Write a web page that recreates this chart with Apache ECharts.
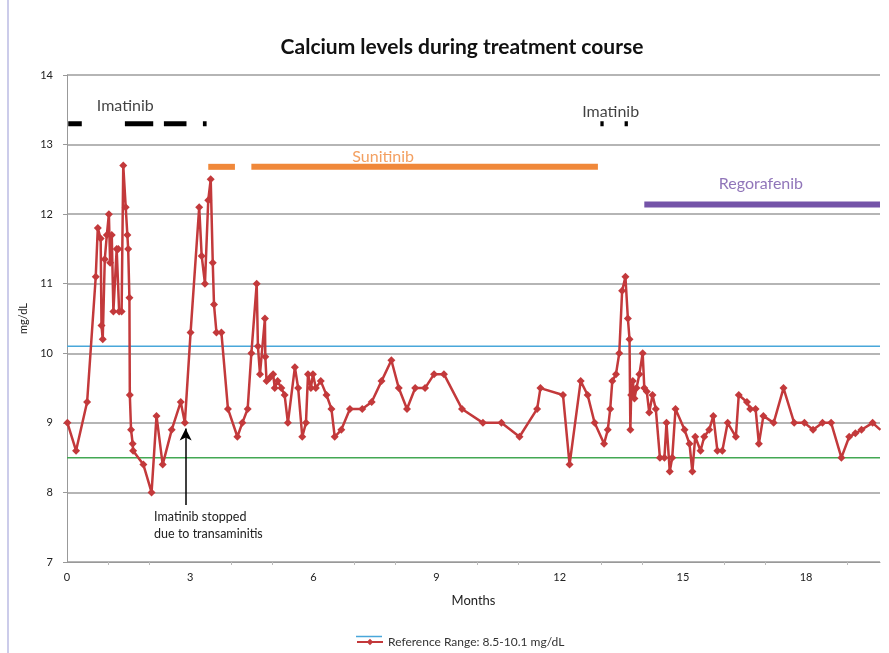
<!DOCTYPE html>
<html>
<head>
<meta charset="utf-8">
<script src="https://cdn.jsdelivr.net/npm/echarts@6/dist/echarts.min.js"></script>
<style>
  html, body { margin: 0; padding: 0; background: #fff; }
  #chart { width: 889px; height: 653px; }
</style>
</head>
<body>
<div id="chart"></div>
<script>
// calcium readings: [month, mg/dL]
var calcium = [
  [0.01, 9.0], [0.22, 8.6], [0.49, 9.3], [0.70, 11.1], [0.75, 11.8], [0.82, 11.65],
  [0.84, 10.4], [0.87, 10.2], [0.92, 11.35], [0.97, 11.7], [1.02, 12.0], [1.05, 11.3],
  [1.09, 11.7], [1.13, 10.6], [1.21, 11.5], [1.25, 11.5], [1.27, 10.6], [1.33, 10.6],
  [1.37, 12.7], [1.43, 12.1], [1.47, 11.7], [1.49, 11.5], [1.52, 10.8], [1.53, 9.4],
  [1.56, 8.9], [1.60, 8.7], [1.61, 8.6], [1.86, 8.4], [2.06, 8.0], [2.18, 9.1],
  [2.33, 8.4], [2.55, 8.9], [2.77, 9.3], [2.87, 9.0], [3.01, 10.3], [3.22, 12.1],
  [3.28, 11.4], [3.36, 11.0], [3.44, 12.2], [3.50, 12.5], [3.55, 11.3], [3.58, 10.7],
  [3.64, 10.3], [3.76, 10.3], [3.92, 9.2], [4.15, 8.8], [4.27, 9.0], [4.40, 9.2],
  [4.49, 10.0], [4.62, 11.0], [4.65, 10.1], [4.70, 9.7], [4.82, 10.5], [4.83, 9.95],
  [4.86, 9.6], [4.94, 9.65], [5.02, 9.7], [5.06, 9.5], [5.13, 9.6], [5.22, 9.5],
  [5.30, 9.4], [5.38, 9.0], [5.55, 9.8], [5.63, 9.5], [5.73, 8.8], [5.82, 9.0],
  [5.87, 9.7], [5.94, 9.5], [5.99, 9.7], [6.06, 9.5], [6.18, 9.6], [6.32, 9.4],
  [6.44, 9.2], [6.52, 8.8], [6.68, 8.9], [6.89, 9.2], [7.19, 9.2], [7.42, 9.3],
  [7.66, 9.6], [7.90, 9.9], [8.08, 9.5], [8.28, 9.2], [8.48, 9.5], [8.72, 9.5],
  [8.94, 9.7], [9.18, 9.7], [9.62, 9.2], [10.13, 9.0], [10.58, 9.0], [11.02, 8.8],
  [11.45, 9.2], [11.53, 9.5], [12.08, 9.4], [12.24, 8.4], [12.51, 9.6], [12.68, 9.4],
  [12.85, 9.0], [13.08, 8.7], [13.17, 8.9], [13.23, 9.2], [13.28, 9.6], [13.37, 9.7],
  [13.45, 10.0], [13.52, 10.9], [13.60, 11.1], [13.66, 10.5], [13.70, 10.2], [13.72, 8.9],
  [13.74, 9.4], [13.78, 9.6], [13.82, 9.35], [13.87, 9.5], [13.94, 9.7], [14.02, 10.0],
  [14.06, 9.5], [14.12, 9.45], [14.18, 9.15], [14.26, 9.4], [14.34, 9.2], [14.44, 8.5],
  [14.55, 8.5], [14.60, 9.0], [14.68, 8.3], [14.74, 8.5], [14.82, 9.2], [15.04, 8.9],
  [15.16, 8.7], [15.23, 8.3], [15.30, 8.8], [15.43, 8.6], [15.52, 8.8], [15.64, 8.9],
  [15.74, 9.1], [15.84, 8.6], [15.96, 8.6], [16.09, 9.0], [16.29, 8.8], [16.36, 9.4],
  [16.56, 9.3], [16.64, 9.2], [16.77, 9.2], [16.85, 8.7], [16.96, 9.1], [17.21, 9.0],
  [17.45, 9.5], [17.71, 9.0], [17.96, 9.0], [18.17, 8.9], [18.40, 9.0], [18.61, 9.0],
  [18.86, 8.5], [19.05, 8.8], [19.20, 8.85], [19.35, 8.9], [19.62, 9.0], [19.81, 8.9]
];

var refLow = 8.5;
var refHigh = 10.1;
var xTicks = [0, 3, 6, 9, 12, 15, 18];
var yTicks = [7, 8, 9, 10, 11, 12, 13, 14];

// treatment periods [start month, end month]
var imatinibSpans = [[0.03, 0.36], [1.41, 2.10], [2.36, 2.91], [3.31, 3.40], [12.99, 13.07], [13.58, 13.66]];
var sunitinibSpans = [[3.44, 4.09], [4.49, 12.93]];
var regorafenibSpans = [[14.06, 19.8]];

var xMax = 19.8;
var redColor = '#c3393b';
var legendName = 'Reference Range: 8.5-10.1 mg/dL';
var font = 'Lato, "Open Sans", sans-serif';

var series = [];

function addSpans(spans, level, color, width) {
  spans.forEach(function (s) {
    series.push({
      type: 'line', silent: true, symbol: 'none',
      data: [[s[0], level], [s[1], level]],
      lineStyle: { color: color, width: width, cap: 'butt' },
      z: 3
    });
  });
}
addSpans(imatinibSpans, 13.3, '#000', 5);
addSpans(sunitinibSpans, 12.68, '#f0883a', 6);
addSpans(regorafenibSpans, 12.14, '#7453a8', 6);

function addLabel(x, y, text, color) {
  series.push({
    type: 'scatter', silent: true, symbolSize: 0,
    data: [[x, y]],
    label: { show: true, position: 'inside', formatter: text, color: color, fontSize: 16, fontFamily: font }
  });
}
addLabel(1.42, 13.55, 'Imatinib', '#111');
addLabel(13.24, 13.47, 'Imatinib', '#111');
addLabel(7.7, 12.83, 'Sunitinib', '#f0883a');
addLabel(16.9, 12.43, 'Regorafenib', '#7453a8');

// reference range lines
series.push({
  name: 'high', type: 'line', symbol: 'none', silent: true,
  data: [[0, refHigh], [xMax, refHigh]],
  lineStyle: { color: '#49a7da', width: 1.5 }, z: 2
});
series.push({
  name: 'low', type: 'line', symbol: 'none', silent: true,
  data: [[0, refLow], [xMax, refLow]],
  lineStyle: { color: '#43a853', width: 1.5 }, z: 2
});

series.push({
  name: legendName,
  type: 'line',
  data: calcium,
  symbol: 'diamond', symbolSize: 8,
  itemStyle: { color: redColor },
  lineStyle: { color: redColor, width: 2.5 },
  z: 4,
  markLine: {
    silent: true,
    symbol: ['none', 'arrow'], symbolSize: [9, 12],
    lineStyle: { color: '#000', width: 1.5, type: 'solid' },
    label: { show: false },
    data: [[{ coord: [2.89, 7.82] }, { coord: [2.89, 8.92] }]]
  },
  markPoint: {
    silent: true, symbol: 'rect', symbolSize: 0,
    label: {
      show: true, position: 'right', color: '#222', fontSize: 12.5, lineHeight: 17,
      fontFamily: font, align: 'left',
      formatter: 'Imatinib stopped\ndue to transaminitis'
    },
    data: [{ coord: [2.0, 7.52] }]
  }
});

var chart = echarts.init(document.getElementById('chart'));
chart.setOption({
  backgroundColor: '#fff',
  animation: false,
  title: {
    text: 'Calcium levels during treatment course',
    left: 457, top: 32, textAlign: 'center',
    textStyle: { fontSize: 21, fontWeight: 'bold', color: '#111', fontFamily: font }
  },
  legend: {
    data: [legendName],
    top: 636, left: 356, padding: 0,
    itemWidth: 26, itemHeight: 8, itemGap: 4,
    textStyle: { fontSize: 12, color: '#333', fontFamily: font }
  },
  grid: { left: 67, right: 9, top: 75, bottom: 91 },
  xAxis: {
    type: 'value', min: 0, max: xMax, interval: 3,
    name: 'Months', nameLocation: 'middle', nameGap: 32,
    nameTextStyle: { fontSize: 13, color: '#222', fontFamily: font },
    axisLine: { lineStyle: { color: '#999' } },
    axisTick: { show: false },
    minorTick: { show: true, splitNumber: 3, length: 3, lineStyle: { color: '#bbb' } },
    splitLine: { show: false },
    axisLabel: {
      fontSize: 11, color: '#222', margin: 10, fontFamily: font,
      formatter: function (v) { return xTicks.indexOf(v) >= 0 ? String(v) : ''; }
    }
  },
  yAxis: {
    type: 'value', min: 7, max: 14, interval: 1,
    name: 'mg/dL', nameLocation: 'middle', nameGap: 36, nameRotate: 90,
    nameTextStyle: { fontSize: 11, color: '#222', fontFamily: font },
    axisLine: { show: true, lineStyle: { color: '#999' } },
    axisTick: { show: true, length: 4, lineStyle: { color: '#999' } },
    splitLine: { lineStyle: { color: '#9c9c9c', width: 1.5 } },
    axisLabel: {
      fontSize: 11, color: '#222', margin: 14, fontFamily: font,
      formatter: function (v) { return yTicks.indexOf(v) >= 0 ? String(v) : ''; }
    }
  },
  graphic: [
    { type: 'line', shape: { x1: 8, y1: 0, x2: 8, y2: 653 }, style: { stroke: '#ccccea', lineWidth: 2 } },
    { type: 'line', shape: { x1: 356, y1: 636.5, x2: 382, y2: 636.5 }, style: { stroke: '#49a7da', lineWidth: 1.5 } }
  ],
  series: series
});
</script>
</body>
</html>
